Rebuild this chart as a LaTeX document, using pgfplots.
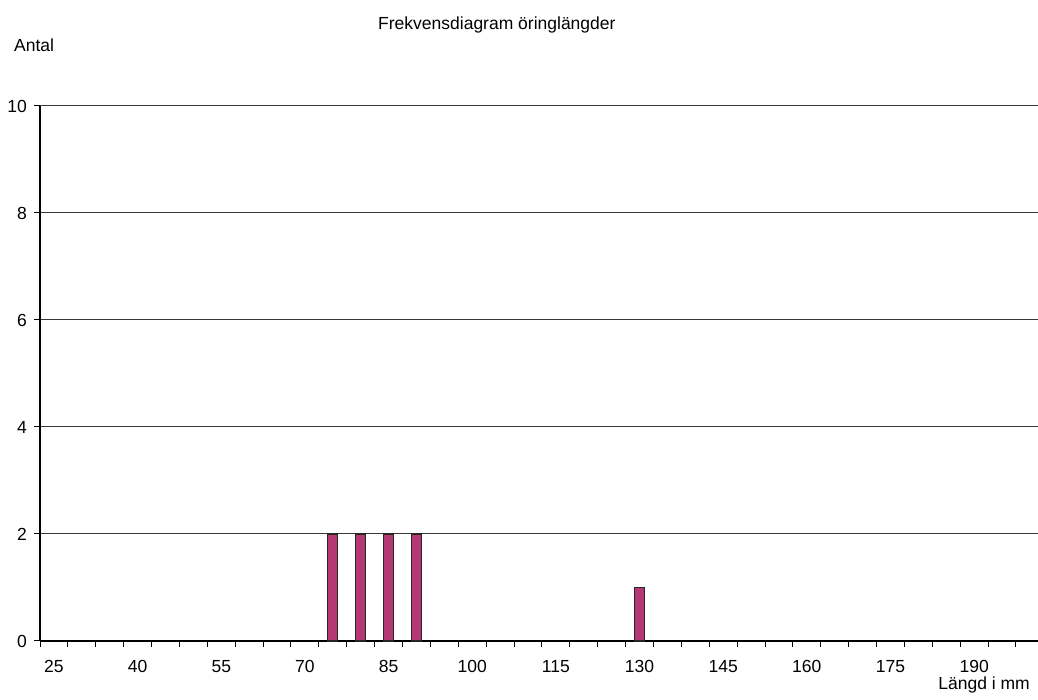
\documentclass[border=0pt]{standalone}
\usepackage{pgfplots}
\pgfplotsset{compat=1.18}
\usepackage{fontspec}
\setmainfont{Liberation Sans}
\definecolor{barfill}{RGB}{181,56,116}
\begin{document}
\fontsize{17.5bp}{21bp}\selectfont
\begin{tikzpicture}[x=1bp,y=1bp]
\useasboundingbox (0,0) rectangle (1038,700);
\begin{axis}[
  at={(40bp,59bp)}, anchor=south west,
  scale only axis, width=998bp, height=535bp,
  xmin=-0.5, xmax=35.29, ymin=0, ymax=10,
  axis x line*=bottom, axis y line*=left,
  axis line style={black, line width=1.2bp},
  ytick={0,2,...,10},
  ymajorgrids, grid style={black!78, line width=1bp},
  tick style={black, line width=1bp},
  tick align=outside, major tick length=6bp,
  xtick={-0.5,0.5,...,35.5}, xticklabels={},
  extra x ticks={0,3,...,33},
  extra x tick labels={25,40,55,70,85,100,115,130,145,160,175,190},
  extra x tick style={major tick length=0pt, xticklabel style={anchor=base, inner sep=0pt, yshift=-32bp}},
  yticklabel style={anchor=east, inner sep=0pt, xshift=-7bp},
  /pgf/number format/assume math mode=true,
  every tick label/.append style={font=\fontsize{17.5bp}{21bp}\selectfont},
  ybar, bar width=10bp,
  clip=false,
]
\addplot[ybar, fill=barfill, draw=black!85, line width=1.2bp] coordinates {(10,2) (11,2) (12,2) (13,2) (21,1)};
\end{axis}
\node[anchor=base west, inner sep=0pt] at (378,670) {Frekvensdiagram öringlängder};
\node[anchor=base west, inner sep=0pt] at (14,648) {Antal};
\node[anchor=base east, inner sep=0pt] at (1030,10) {Längd i mm};
\end{tikzpicture}
\end{document}
